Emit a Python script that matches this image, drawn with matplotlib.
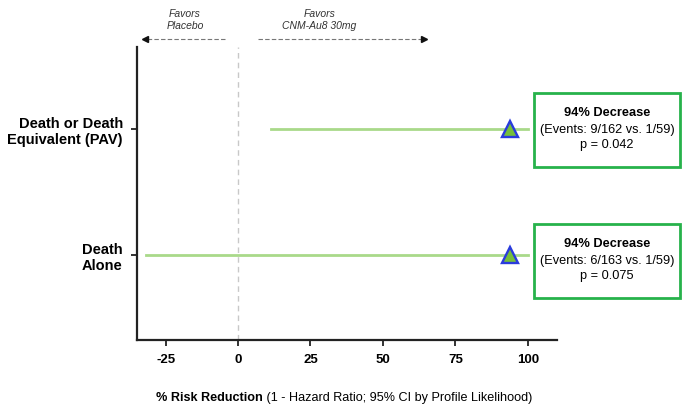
import matplotlib.pyplot as plt
from matplotlib.patches import Rectangle

# forest plot data
outcomes = ["Death or Death\nEquivalent (PAV)", "Death\nAlone"]
ypos = [2, 1]
estimate = [94, 94]
ci_low = [11.3, -31.8]
ci_high = [100, 100]
events = ["(Events: 9/162 vs. 1/59)", "(Events: 6/163 vs. 1/59)"]
pvals = ["p = 0.042", "p = 0.075"]
xticks = [-25, 0, 25, 50, 75, 100]

plt.rcParams['font.family'] = ['Liberation Sans', 'DejaVu Sans']

fig = plt.figure(figsize=(6.83, 4.13), dpi=100)
ax = fig.add_axes([0.2001, 0.1768, 0.615, 0.7102])

# zero reference line
ax.axvline(0, color='#c8c8c8', lw=1, ls=(0, (4, 3)), zorder=1)

for i in range(len(outcomes)):
    ax.plot([ci_low[i], ci_high[i]], [ypos[i], ypos[i]], color='#a9d98a', lw=2, zorder=2)
    ax.plot(estimate[i], ypos[i], marker='^', ms=11, mfc='#76bf3a', mec='#2a3bdc',
            mew=1.7, zorder=3)

ax.set_xlim(-35, 110)
ax.set_ylim(0.328, 2.656)
ax.set_xticks(xticks)
ax.set_xticklabels([str(t) for t in xticks], fontsize=9.5, fontweight='bold')
ax.set_yticks(ypos)
ax.set_yticklabels(outcomes, fontsize=10.5, fontweight='bold', linespacing=1.2)
ax.tick_params(axis='both', direction='out', length=4, width=1.3, color='#222222')
ax.tick_params(axis='x', pad=6)
ax.tick_params(axis='y', pad=6)
for s in ['top', 'right']:
    ax.spines[s].set_visible(False)
for s in ['left', 'bottom']:
    ax.spines[s].set_linewidth(1.6)
    ax.spines[s].set_color('#222222')

# favors arrows above the plot
ay = 2.717
ax.plot([-4.6, -31.5], [ay, ay], color='#777777', lw=0.8, ls=(0, (4, 2)), clip_on=False)
ax.plot(-32, ay, marker='<', ms=4, color='#111111', clip_on=False)
ax.plot([6.8, 63.6], [ay, ay], color='#777777', lw=0.8, ls=(0, (4, 2)), clip_on=False)
ax.plot(64.2, ay, marker='>', ms=4, color='#111111', clip_on=False)
ax.text(-18.3, 2.87, "Favors\nPlacebo", fontsize=7.5, style='italic', color='#333333',
        ha='center', va='center', linespacing=1.25)
ax.text(28.1, 2.87, "Favors\nCNM-Au8 30mg", fontsize=7.5, style='italic', color='#333333',
        ha='center', va='center', linespacing=1.25)

# x label with bold lead
W, H = 683, 413
lead = fig.text(156 / W, 1 - 398 / H, "% Risk Reduction", fontsize=9.1,
                fontweight='bold', ha='left', va='center')
ax.annotate(" (1 - Hazard Ratio; 95% CI by Profile Likelihood)", xy=(1, 0.5),
            xycoords=lead, fontsize=9.1, ha='left', va='center', annotation_clip=False)

# result boxes (figure pixel coords)
boxes = [(534, 92.7, 167.3), (534, 224, 298)]
for i, (x0, ytop, ybot) in enumerate(boxes):
    r = Rectangle((x0 / W, 1 - ybot / H), 146 / W, (ybot - ytop) / H, transform=fig.transFigure,
                  fill=False, edgecolor='#27b24b', lw=2)
    fig.add_artist(r)
    cx = (x0 + 73) / W
    fig.text(cx, 1 - (ytop + 20) / H, "94% Decrease", fontsize=9.2, fontweight='bold', ha='center', va='center')
    fig.text(cx, 1 - (ytop + 37) / H, events[i], fontsize=9.2, ha='center', va='center')
    fig.text(cx, 1 - (ytop + 52) / H, pvals[i], fontsize=9.2, ha='center', va='center')

fig.savefig("out.png", dpi=100)
